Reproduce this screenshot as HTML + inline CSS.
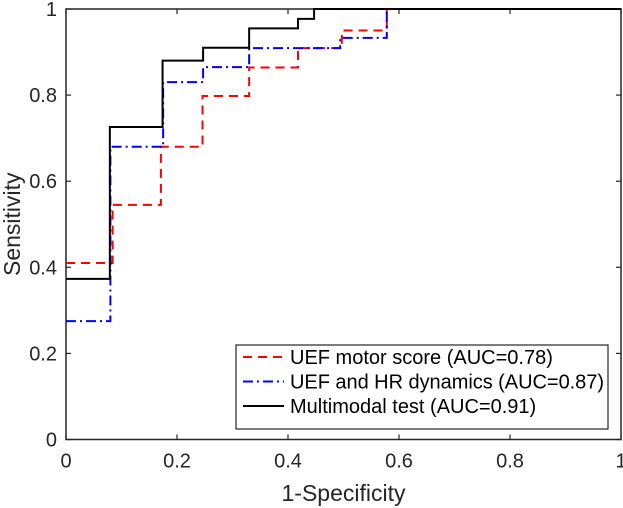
<!DOCTYPE html>
<html><head><meta charset="utf-8"><style>
body{margin:0;background:#fff;}
svg{display:block;font-family:"Liberation Sans",Arial,sans-serif;}
</style></head><body>
<svg id="chart" width="623" height="508"></svg>
<script>
const xTicks=[0,0.2,0.4,0.6,0.8,1];
const xTickLabels=["0","0.2","0.4","0.6","0.8","1"];
const yTicks=[0,0.2,0.4,0.6,0.8,1];
const yTickLabels=["0","0.2","0.4","0.6","0.8","1"];
const seriesNames=["UEF motor score (AUC=0.78)","UEF and HR dynamics (AUC=0.87)","Multimodal test (AUC=0.91)"];
const redFpr=[0,0.084,0.171,0.246,0.33,0.418,0.497,0.578];
const redTpr=[0.41,0.545,0.68,0.798,0.864,0.909,0.95,1];
const blueFpr=[0,0.08,0.175,0.247,0.33,0.494,0.578];
const blueTpr=[0.275,0.68,0.83,0.865,0.909,0.933,1];
const blackFpr=[0,0.079,0.174,0.247,0.33,0.418,0.447];
const blackTpr=[0.373,0.726,0.88,0.91,0.955,0.977,1];

const NS="http://www.w3.org/2000/svg";
const svg=document.getElementById('chart');
const L=66,R=621,T=9,B=439.5;
const xs=v=>L+v*(R-L), ys=v=>B-v*(B-T);
function mk(t,a,p){const e=document.createElementNS(NS,t);for(const k in a)e.setAttribute(k,a[k]);(p||svg).appendChild(e);return e;}

const box=mk('rect',{x:L,y:T,width:R-L,height:B-T,fill:'none',stroke:'#262626','stroke-width':1.5});


xTicks.forEach((v,i)=>{
  const x=xs(v);
  mk('line',{x1:x,y1:B,x2:x,y2:B-5,stroke:'#262626','stroke-width':1.2});
  mk('line',{x1:x,y1:T,x2:x,y2:T+5,stroke:'#262626','stroke-width':1.2});
  const t=mk('text',{x:x,y:B+28,'text-anchor':'middle','font-size':20,fill:'#262626'});
  t.textContent=xTickLabels[i];
  
  
});
yTicks.forEach((v,i)=>{
  const y=ys(v);
  mk('line',{x1:L,y1:y,x2:L+5,y2:y,stroke:'#262626','stroke-width':1.2});
  mk('line',{x1:R,y1:y,x2:R-5,y2:y,stroke:'#262626','stroke-width':1.2});
  const t=mk('text',{x:L-9,y:y+7,'text-anchor':'end','font-size':20,fill:'#262626'});
  t.textContent=yTickLabels[i];
  
  
});
const xt=mk('text',{x:(L+R)/2,y:501,'text-anchor':'middle','font-size':23,fill:'#262626'});
xt.textContent='1-Specificity';


const yt=mk('text',{x:0,y:0,'text-anchor':'middle','font-size':23,fill:'#262626',transform:`translate(20,${(T+B)/2}) rotate(-90)`});
yt.textContent='Sensitivity';



function stairs(f,t){
  let d=`M${xs(f[0])},${ys(t[0])}`;
  for(let i=1;i<f.length;i++){d+=` H${xs(f[i])} V${ys(t[i])}`;}
  d+=` H${xs(1)}`;
  return d;
}
const styles=[{c:'#ff0000',da:'9,6'},{c:'#0000ff',da:'10,4,2,4'},{c:'#000000',da:''}];
const data=[[redFpr,redTpr],[blueFpr,blueTpr],[blackFpr,blackTpr]];
const lineNames=['roc-uef-motor','roc-uef-hr','roc-multimodal'];
data.forEach((d,i)=>{
  const p=mk('path',{d:stairs(d[0],d[1]),fill:'none',stroke:styles[i].c,'stroke-width':2,'stroke-dasharray':styles[i].da});
  
  
});

const lg=mk('g',{});


mk('rect',{x:236,y:345,width:372,height:84,fill:'#fff',stroke:'#262626','stroke-width':1.2},lg);
seriesNames.forEach((n,i)=>{
  const y=357+i*24.5;
  const g=mk('g',{},lg);
  
  
  mk('line',{x1:243,y1:y,x2:284,y2:y,stroke:styles[i].c,'stroke-width':2,'stroke-dasharray':styles[i].da},g);
  const t=mk('text',{x:290,y:y+7,'font-size':20,fill:'#000',textLength:i==1?314:null},g);
  t.textContent=n;
});
</script>
</body></html>
